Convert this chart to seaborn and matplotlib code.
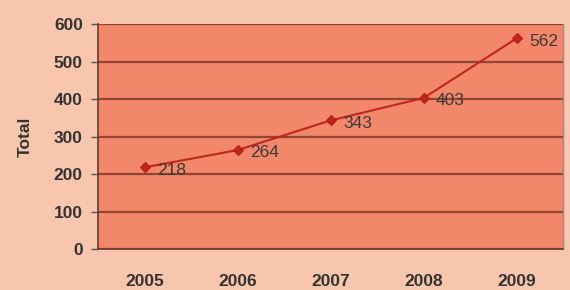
import matplotlib
matplotlib.use("Agg")
import matplotlib.pyplot as plt
import seaborn as sns
import pandas as pd
from matplotlib.ticker import FixedLocator

years = ["2005", "2006", "2007", "2008", "2009"]
totals = [218, 264, 343, 403, 562]
y_ticks = [0, 100, 200, 300, 400, 500, 600]
y_label = "Total"

sns.set_theme(style="white")
plt.rcParams['font.family'] = ['Liberation Sans', 'DejaVu Sans']

df = pd.DataFrame({"year": years, "total": totals})
df["pos"] = range(len(years))

fig = plt.figure(figsize=(5.7, 2.9), dpi=100)
fig.patch.set_facecolor("#f8c5ad")
ax = fig.add_axes([0.172, 0.141, 0.816, 0.776])
ax.set_facecolor("#f3876a")

ax.set_ylim(0, 600)
ax.set_xlim(-0.5, len(years) - 0.5)
ax.set_yticks(y_ticks)
ax.yaxis.grid(True, color="#8f4632", linewidth=1.6)
ax.set_axisbelow(True)

sns.lineplot(data=df, x="pos", y="total", ax=ax, color="#c0261c",
             linewidth=1.5, marker="D", markersize=5,
             markeredgecolor="#b01e16", markerfacecolor="#c0261c")

for x, v in zip(df["pos"], totals):
    ax.annotate(str(v), (x, v), xytext=(9, -2), textcoords="offset points",
                fontsize=12.5, color="#3a3a3a", va="center", ha="left")

ax.set_xticks(list(df["pos"]))
ax.set_xticklabels(years, fontsize=12.5, fontweight="bold", color="#333333")
ax.tick_params(axis="x", which="major", length=0, pad=18)
ax.xaxis.set_minor_locator(FixedLocator([i - 0.5 for i in range(len(years) + 1)]))
ax.tick_params(axis="x", which="minor", length=4, width=1, color="#555555", direction="out")
ax.tick_params(axis="y", length=5, width=1, color="#555555", direction="out",
               labelsize=12.5, labelcolor="#333333", pad=6, left=True)
for lab in ax.get_yticklabels():
    lab.set_fontweight("bold")

ax.set_xlabel("")
ax.set_ylabel(y_label, fontsize=12.5, fontweight="bold", color="#333333", labelpad=15)

for side in ["left", "bottom"]:
    ax.spines[side].set_color("#6a3a30")
    ax.spines[side].set_linewidth(1.2)
ax.spines["top"].set_visible(False)
ax.spines["right"].set_color("#9a8a88")
ax.spines["right"].set_linewidth(1)

fig.savefig("out.png", dpi=100, facecolor=fig.get_facecolor())
